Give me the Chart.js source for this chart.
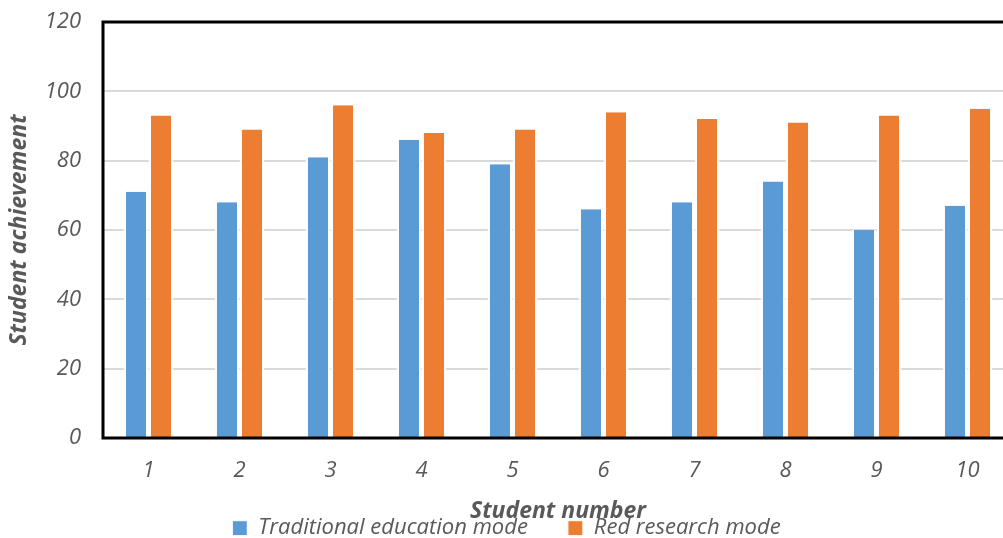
<!DOCTYPE html>
<html>
<head>
<meta charset="utf-8">
<script src="https://cdn.jsdelivr.net/npm/chart.js@4/dist/chart.umd.min.js"></script>
<style>
  html, body { margin: 0; padding: 0; background: #fff; overflow: hidden; }
  #wrap { width: 1016px; height: 538px; }
</style>
</head>
<body>
<div id="wrap"><canvas id="achievementChart"></canvas></div>
<script>
var students = ['1', '2', '3', '4', '5', '6', '7', '8', '9', '10'];
var traditionalScores = [71, 68, 81, 86, 79, 66, 68, 74, 60, 67];
var redResearchScores = [93, 89, 96, 88, 89, 94, 92, 91, 93, 95];
var yTicks = [0, 20, 40, 60, 80, 100, 120];

var textGray = '#595959';
var fontFamily = "'Open Sans', 'Liberation Sans', sans-serif";

// thick black frame round the plot area
var frameBox = {
    id: 'frameBox',
    afterDatasetsDraw: function (chart) {
        let a = chart.chartArea;
        let ctx = chart.ctx;
        ctx.save();
        ctx.strokeStyle = '#000';
        ctx.lineWidth = 3;
        ctx.strokeRect(a.left, a.top, a.right - a.left, a.bottom - a.top);
        ctx.restore();
    }
};

var ctx = document.getElementById('achievementChart').getContext('2d');
var achievementChart = new Chart(ctx, {
    type: 'bar',
    data: {
        labels: students,
        datasets: [{
            label: 'Traditional education mode',
            data: traditionalScores,
            backgroundColor: '#5B9BD5',
            borderColor: 'rgba(255,255,255,0.85)',
            borderWidth: { left: 2.5, right: 2.5, top: 0, bottom: 0 },
            categoryPercentage: 0.55,
            barPercentage: 1
        }, {
            label: 'Red research mode',
            data: redResearchScores,
            backgroundColor: '#ED7D31',
            borderColor: 'rgba(255,255,255,0.85)',
            borderWidth: { left: 2.5, right: 2.5, top: 0, bottom: 0 },
            categoryPercentage: 0.55,
            barPercentage: 1
        }]
    },
    options: {
        responsive: true,
        maintainAspectRatio: false,
        animation: false,
        layout: {
            padding: { top: 22, right: 3, left: 0, bottom: -11 }
        },
        plugins: {
            legend: {
                position: 'bottom',
                labels: {
                    color: textGray,
                    boxWidth: 15,
                    boxHeight: 15,
                    padding: 40,
                    font: { family: fontFamily, size: 22, style: 'italic' }
                }
            },
            tooltip: { enabled: false }
        },
        scales: {
            x: {
                grid: { display: false, drawTicks: false },
                border: { display: false },
                ticks: {
                    color: textGray,
                    padding: 20,
                    font: { family: fontFamily, size: 22, style: 'italic' }
                },
                title: {
                    display: true,
                    text: 'Student number',
                    color: textGray,
                    padding: { top: 0, bottom: -48 },
                    font: { family: fontFamily, size: 23, style: 'italic', weight: 'bold' }
                },
                afterFit: function (scale) {
                    scale.height = 39;
                    scale.paddingLeft = 0;
                    scale.paddingRight = 0;
                }
            },
            y: {
                min: 0,
                max: 120,
                afterBuildTicks: function (scale) {
                    scale.ticks = yTicks.map(function (v) { return { value: v }; });
                },
                grid: { color: '#d9d9d9', lineWidth: 2, drawTicks: false },
                border: { display: false },
                ticks: {
                    color: textGray,
                    padding: 22,
                    font: { family: fontFamily, size: 22, style: 'italic' }
                },
                title: {
                    display: true,
                    text: 'Student achievement',
                    color: textGray,
                    padding: { top: 6, bottom: 0 },
                    font: { family: fontFamily, size: 23, style: 'italic', weight: 'bold' }
                },
                afterFit: function (scale) {
                    scale.width = 103;
                    scale.paddingTop = 0;
                    scale.paddingBottom = 0;
                }
            }
        }
    },
    plugins: [frameBox]
});
</script>
</body>
</html>
